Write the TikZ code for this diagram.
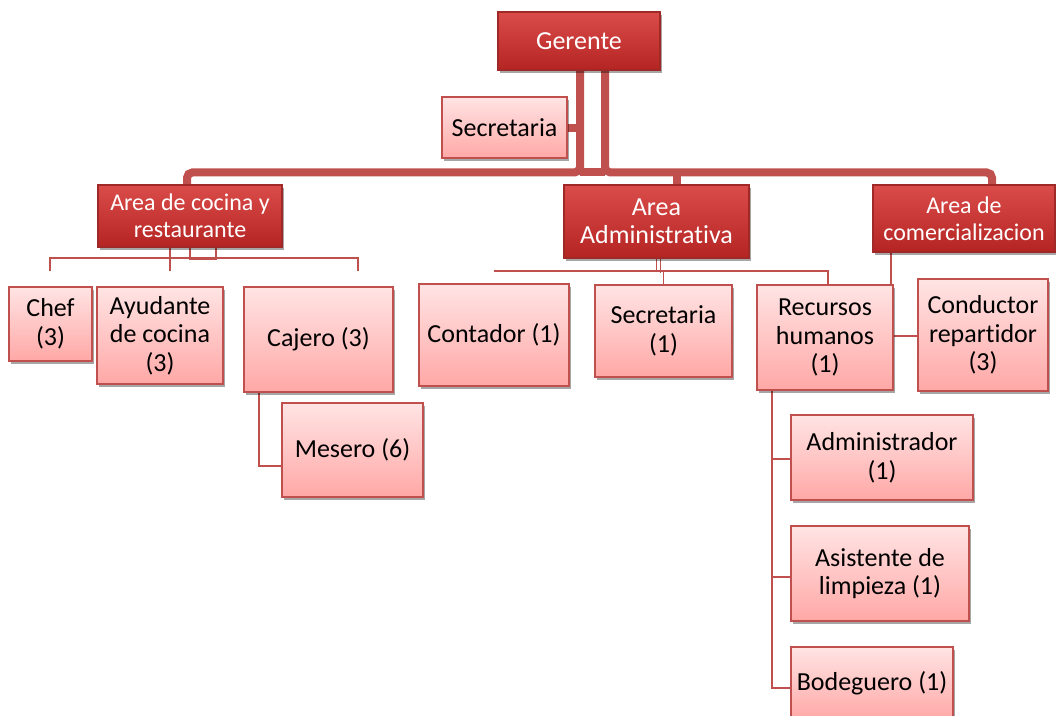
\documentclass[tikz,border=0pt]{standalone}
\usepackage{fontspec}
\setmainfont[Ligatures={NoCommon,NoContextual}]{Carlito}
\usetikzlibrary{shadows,calc,backgrounds}
\definecolor{lnc}{RGB}{192,80,77}
\definecolor{dtop}{RGB}{218,76,74}
\definecolor{dbot}{RGB}{180,36,34}
\definecolor{dbrd}{RGB}{160,40,38}
\definecolor{ltop}{RGB}{255,228,228}
\definecolor{lbot}{RGB}{255,168,166}
\begin{document}
\begin{tikzpicture}[x=0.75pt,y=-0.75pt,
  dbox/.style={draw=dbrd, line width=0.8pt, top color=dtop, bottom color=dbot, text=white, align=center, inner sep=0pt,
    drop shadow={shadow xshift=1.5pt, shadow yshift=-2pt, opacity=0.35, fill=black}},
  lbox/.style={draw=lnc, line width=1.2pt, top color=ltop, bottom color=lbot, text=black, align=center, inner sep=0pt,
    font=\fontsize{19.5}{21.5}\selectfont,
    drop shadow={shadow xshift=1.5pt, shadow yshift=-2pt, opacity=0.35, fill=black}},
  thickc/.style={draw=lnc, line width=6pt, rounded corners=4pt},
  thinc/.style={draw=lnc, line width=1.4pt}]
\begin{pgfonlayer}{background}
\clip (0,0) rectangle (1056,715);
\fill[white] (0,0) rectangle (1056,715);
\end{pgfonlayer}
\clip (0,0) rectangle (1056,715);

\path
 node[dbox, minimum width=121.5pt, minimum height=43.5pt, font=\fontsize{19.5}{21.5}\selectfont] (ger) at (579,41) {Gerente}
 node[lbox, minimum width=93.75pt, minimum height=45.75pt] (sec) at (504.5,127.5) {Secretaria}
 node[dbox, minimum width=138pt, minimum height=46.5pt, font=\fontsize{18}{20.2}\selectfont] (coc) at (190,216) {Area de cocina y\\restaurante}
 node[dbox, minimum width=138.75pt, minimum height=54.75pt, font=\fontsize{19.5}{21}\selectfont] (adm) at (656.5,221.5) {Area\\Administrativa}
 node[dbox, minimum width=136.5pt, minimum height=50.25pt, font=\fontsize{18}{20.2}\selectfont] (com) at (964,218.5) {Area de\\comercializacion}
 node[lbox, minimum width=62.25pt, minimum height=55.5pt] (chef) at (50.5,324) {Chef\\(3)}
 node[lbox, minimum width=94.5pt, minimum height=72.75pt] (ayu) at (160,335.5) {Ayudante\\de cocina\\(3)}
 node[lbox, minimum width=111.75pt, minimum height=78.75pt] (caj) at (318.5,339.5) {Cajero (3)}
 node[lbox, minimum width=105.75pt, minimum height=70.5pt] (mes) at (352.5,450) {Mesero (6)}
 node[lbox, minimum width=112.5pt, minimum height=76.5pt] (con) at (494,335) {Contador (1)}
 node[lbox, minimum width=102.75pt, minimum height=69pt] (sec1) at (663.5,331) {Secretaria\\(1)}
 node[lbox, minimum width=102pt, minimum height=78.75pt] (rec) at (825,337.5) {Recursos\\humanos\\(1)}
 node[lbox, minimum width=97.5pt, minimum height=84pt] (cond) at (983,335) {Conductor\\repartidor\\(3)}
 node[lbox, minimum width=136.5pt, minimum height=63.75pt] (adm2) at (882,457.5) {Administrador\\(1)}
 node[lbox, minimum width=133.5pt, minimum height=71.25pt] (asis) at (880,573.5) {Asistente de\\limpieza (1)}
 node[lbox, minimum width=121.5pt, minimum height=54.75pt] (bod) at (872,683.5) {Bodeguero (1)};

\begin{pgfonlayer}{background}
% thick connectors from Gerente
\coordinate (gl) at ($(ger.south)+(1,0)$);
\coordinate (gr) at ($(ger.south)+(26,0)$);
\coordinate (busL) at ($(coc.north)+(-3,-12)$);
\coordinate (busR) at ($(com.north)+(28,-12)$);
\coordinate (busA) at ($(adm.north)+(20.5,-12)$);
\draw[thickc] (gl) |- (busL) -- ($(coc.north)+(-3,0)$);
\draw[thickc] (gr) |- (busR) -- ($(com.north)+(28,0)$);
\draw[thickc] (gl |- busL) -- (gr |- busL);
\draw[thickc] (busA) -- ($(adm.north)+(20.5,0)$);
\draw[thickc] (sec.east) -- (gl |- sec.east);
% cocina
\draw[thinc] ($(chef.north)+(-0.5,-15)$) |- ($(caj.north)+(39.5,-28)$) -- ($(caj.north)+(39.5,-15)$);
\draw[thinc] ($(coc.south)+(-20,0)$) -- ($(ayu.north)+(10,-15)$);
\draw[thinc] (coc.south) -- ++(0,12) -| ($(coc.south)+(26,0)$);
\draw[thinc] ($(caj.south)+(-59.5,0)$) |- ($(mes.west)+(0,16)$);
% administrativa
\draw[thinc] ($(con.north)+(0,-12)$) |- ($(rec.north)+(3,-13)$) -- ($(rec.north)+(3,0)$);
\draw[thinc] (adm.south) |- ($(sec1.north)+(0,-13)$) -- (sec1.north);
\draw[thinc] ($(adm.south)+(4,0)$) -- ++(0,14);
% comercializacion
\draw[thinc] ($(com.south)+(-73,0)$) |- ($(cond.west)+(0,1)$);
% recursos humanos
\draw[thinc] ($(rec.south)+(-53,0)$) |- ($(adm2.west)+(0,1.5)$);
\draw[thinc] ($(rec.south)+(-53,0)$) |- ($(asis.west)+(0,3.5)$);
\draw[thinc] ($(rec.south)+(-53,0)$) |- ($(bod.west)+(0,4.5)$);
\end{pgfonlayer}
\end{tikzpicture}
\end{document}
